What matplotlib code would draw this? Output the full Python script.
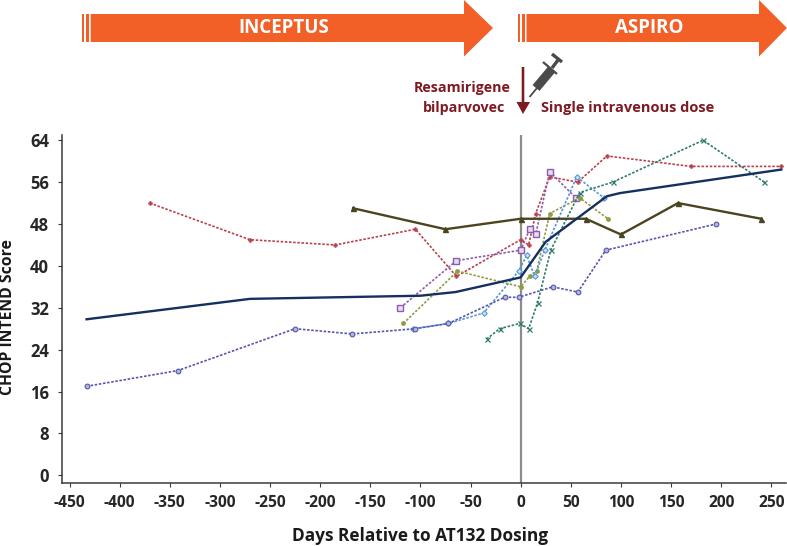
import matplotlib
matplotlib.use("Agg")
import matplotlib.pyplot as plt
from matplotlib.patches import Polygon, Rectangle

plt.rcParams['font.family'] = ['Open Sans', 'DejaVu Sans']
plt.rcParams['axes.unicode_minus'] = False

# pt data
mean_x = [-433, -270, -100, -65, 0, 25, 86, 99, 260]
mean_y = [29.8, 33.7, 34.3, 35, 37.8, 44.6, 53.3, 53.9, 58.4]
olive_solid_x = [-167, -75, 0, 65, 100, 157, 240]
olive_solid_y = [51, 47, 49, 49, 46, 52, 49]
red_x = [-370, -270, -185, -105, -64, 0, 8, 15, 29, 57, 86, 170, 260]
red_y = [52, 45, 44, 47, 38, 45, 44, 50, 57, 56, 61, 59, 59]
purple_x = [-120, -64, 0, 9, 15, 29, 55]
purple_y = [32, 41, 43, 47, 46, 58, 53]
olive_x = [-117, -63, 0, 9, 16, 29, 59, 87]
olive_y = [29, 39, 36, 38, 39, 50, 53, 49]
blue_x = [-107, -72, -37, -2, 6, 14, 24, 56, 83]
blue_y = [28, 29, 31, 39, 42, 38, 43, 57, 53]
indigo_x = [-433, -342, -225, -168, -105, -72, -16, -2, 32, 57, 85, 195]
indigo_y = [17, 20, 28, 27, 28, 29, 34, 34, 36, 35, 43, 48]
teal_x = [-34, -21, -1, 8, 17, 30, 59, 92, 182, 243]
teal_y = [26, 28, 29, 28, 33, 43, 54, 56, 64, 56]

x_ticks = list(range(-450, 300, 50))
y_ticks = list(range(0, 72, 8))

W, H = 787, 546
fig = plt.figure(figsize=(W / 100, H / 100), dpi=100)
ax = fig.add_axes([62 / W, 1 - 483.3 / H, 724 / W, 348.3 / H])

ax.axvline(0, color='#8c8c8c', lw=1.6, zorder=1)


def dotted(x, y, color, marker, ms=3.0, mfc=None, mew=0.8):
    ax.plot(x, y, color=color, lw=1.2, ls=(0, (1.5, 1.0)), marker=marker, ms=ms,
            mfc=color if mfc is None else mfc, mec=color, mew=mew, zorder=3)


dotted(red_x, red_y, '#b8404a', 'P', 3.0, mew=0.3)
dotted(purple_x, purple_y, '#8f5cad', 's', 4.2, mfc='#e6dcee', mew=1.0)
dotted(olive_x, olive_y, '#8d9c42', 'o', 2.6)
dotted(blue_x, blue_y, '#5498d6', 'D', 2.8, mfc='#cfe3f5')
dotted(indigo_x, indigo_y, '#5555ad', 'o', 3.4, mfc='#b5b5de')
dotted(teal_x, teal_y, '#2f7a6d', 'x', 3.6, mew=0.9)
ax.plot(olive_solid_x, olive_solid_y, color='#4c4420', lw=1.7, marker='^', ms=3.6, zorder=4)
ax.plot(mean_x, mean_y, color='#14305e', lw=1.7, zorder=5)

ax.set_xlim(-457.5, 264.7)
ax.set_ylim(-1.53, 65)
ax.set_xticks(x_ticks)
ax.set_yticks(y_ticks)
ax.spines['top'].set_visible(False)
ax.spines['right'].set_visible(False)
for s in ['left', 'bottom']:
    ax.spines[s].set_color('#3a3a3a')
    ax.spines[s].set_linewidth(1.1)
ax.tick_params(length=3.2, width=0.8, color='#3a3a3a', labelcolor='#262626', pad=5)
ax.tick_params(axis='x', labelsize=11.2)
ax.tick_params(axis='y', labelsize=12, pad=6)
for lab in ax.get_xticklabels() + ax.get_yticklabels():
    lab.set_fontweight('bold')
ax.set_xlabel("Days Relative to AT132 Dosing", fontsize=12.4, fontweight='bold', color='#1a1a1a')
ax.xaxis.set_label_coords((420 - 62) / 724, -(536 - 483.3) / 348.3)
ax.xaxis.label.set_va('center')
ax.set_ylabel("CHOP INTEND Score", fontsize=11.3, fontweight='bold', color='#1a1a1a')
ax.yaxis.set_label_coords((8 - 62) / 724, (483.3 - 317) / 348.3)
ax.yaxis.label.set_va('center')

# overlay in pixel coordinates for the banner
top = fig.add_axes([0, 0, 1, 1], facecolor='none')
top.set_xlim(0, W)
top.set_ylim(H, 0)
top.axis('off')

orange = '#f25f27'


def banner(left, tip, head, label, label_x):
    top.add_patch(Rectangle((left, 14), 2, 28, color=orange, lw=0))
    top.add_patch(Rectangle((left + 4, 14), 3.6, 28, color=orange, lw=0))
    top.add_patch(Polygon([(left + 9, 14), (head, 14), (head, 0), (tip, 28), (head, 56.5),
                           (head, 42), (left + 9, 42)], closed=True, color=orange, lw=0))
    top.text(label_x, 28, label, color='white', fontsize=13.5, fontweight='bold',
             ha='center', va='center')


banner(81.7, 493, 464, "INCEPTUS", 284)
banner(517.5, 787, 759, "ASPIRO", 649)

dark_red = '#7e1a22'
top.add_patch(Polygon([(521.7, 67), (524.3, 67), (524.3, 102), (530, 102), (523, 114), (516.5, 102),
                       (521.7, 102)], closed=True, color=dark_red, lw=0))
top.text(511, 88, "Resamirigene", color=dark_red, fontsize=10.3, fontweight='bold', ha='right', va='center')
top.text(505, 108, "bilparvovec", color=dark_red, fontsize=10.3, fontweight='bold', ha='right', va='center')
top.text(541, 108, "Single intravenous dose", color=dark_red, fontsize=10.5, fontweight='bold',
         ha='left', va='center')

# syringe icon
grey = '#4a4a4a'
top.plot([529.5, 537], [97, 88], color=grey, lw=1.3, solid_capstyle='butt')
top.plot([536, 552], [88, 69], color=grey, lw=6.5, solid_capstyle='butt')
top.plot([543, 557], [62, 74], color=grey, lw=1.6, solid_capstyle='butt')
top.plot([552, 558], [68, 60], color=grey, lw=2.4, solid_capstyle='butt')
top.plot([552, 562], [54, 62], color=grey, lw=2.4, solid_capstyle='butt')

fig.savefig('out.png', dpi=100)
